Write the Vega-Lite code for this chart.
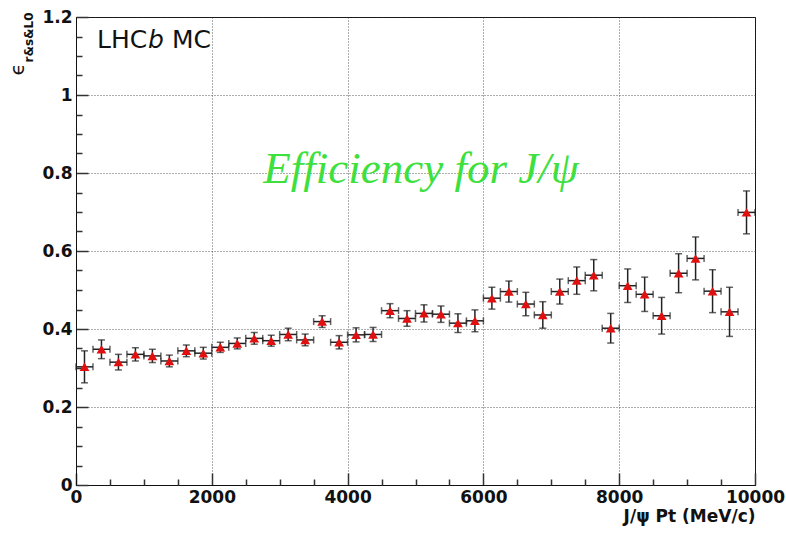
{
  "$schema": "https://vega.github.io/schema/vega-lite/v6.json",
  "width": 679,
  "height": 468,
  "autosize": {"type": "none"},
  "padding": {"left": 76, "top": 17, "right": 31, "bottom": 51},
  "background": "white",
  "config": {
    "view": {"stroke": "#111", "strokeWidth": 1},
    "axis": {"labelFont": "DejaVu Sans", "labelFontWeight": "bold", "labelFontSize": 17, "labelColor": "#111", "titleFont": "DejaVu Sans", "titleColor": "#111"}
  },
  "datasets": {
    "bins": [
      {"pt": 125, "xlo": 0, "xhi": 250, "eff": 0.303, "lo": 0.262, "hi": 0.344},
      {"pt": 375, "xlo": 250, "xhi": 500, "eff": 0.348, "lo": 0.324, "hi": 0.372},
      {"pt": 625, "xlo": 500, "xhi": 750, "eff": 0.315, "lo": 0.295, "hi": 0.335},
      {"pt": 875, "xlo": 750, "xhi": 1000, "eff": 0.335, "lo": 0.318, "hi": 0.352},
      {"pt": 1125, "xlo": 1000, "xhi": 1250, "eff": 0.331, "lo": 0.314, "hi": 0.348},
      {"pt": 1375, "xlo": 1250, "xhi": 1500, "eff": 0.318, "lo": 0.303, "hi": 0.333},
      {"pt": 1625, "xlo": 1500, "xhi": 1750, "eff": 0.344, "lo": 0.329, "hi": 0.359},
      {"pt": 1875, "xlo": 1750, "xhi": 2000, "eff": 0.338, "lo": 0.323, "hi": 0.353},
      {"pt": 2125, "xlo": 2000, "xhi": 2250, "eff": 0.353, "lo": 0.340, "hi": 0.366},
      {"pt": 2375, "xlo": 2250, "xhi": 2500, "eff": 0.363, "lo": 0.349, "hi": 0.377},
      {"pt": 2625, "xlo": 2500, "xhi": 2750, "eff": 0.376, "lo": 0.361, "hi": 0.391},
      {"pt": 2875, "xlo": 2750, "xhi": 3000, "eff": 0.370, "lo": 0.356, "hi": 0.384},
      {"pt": 3125, "xlo": 3000, "xhi": 3250, "eff": 0.386, "lo": 0.370, "hi": 0.402},
      {"pt": 3375, "xlo": 3250, "xhi": 3500, "eff": 0.372, "lo": 0.357, "hi": 0.387},
      {"pt": 3625, "xlo": 3500, "xhi": 3750, "eff": 0.419, "lo": 0.404, "hi": 0.434},
      {"pt": 3875, "xlo": 3750, "xhi": 4000, "eff": 0.366, "lo": 0.349, "hi": 0.383},
      {"pt": 4125, "xlo": 4000, "xhi": 4250, "eff": 0.385, "lo": 0.367, "hi": 0.403},
      {"pt": 4375, "xlo": 4250, "xhi": 4500, "eff": 0.386, "lo": 0.368, "hi": 0.404},
      {"pt": 4625, "xlo": 4500, "xhi": 4750, "eff": 0.447, "lo": 0.429, "hi": 0.465},
      {"pt": 4875, "xlo": 4750, "xhi": 5000, "eff": 0.427, "lo": 0.407, "hi": 0.447},
      {"pt": 5125, "xlo": 5000, "xhi": 5250, "eff": 0.440, "lo": 0.418, "hi": 0.462},
      {"pt": 5375, "xlo": 5250, "xhi": 5500, "eff": 0.438, "lo": 0.417, "hi": 0.459},
      {"pt": 5625, "xlo": 5500, "xhi": 5750, "eff": 0.415, "lo": 0.391, "hi": 0.439},
      {"pt": 5875, "xlo": 5750, "xhi": 6000, "eff": 0.421, "lo": 0.393, "hi": 0.449},
      {"pt": 6125, "xlo": 6000, "xhi": 6250, "eff": 0.479, "lo": 0.451, "hi": 0.507},
      {"pt": 6375, "xlo": 6250, "xhi": 6500, "eff": 0.496, "lo": 0.469, "hi": 0.523},
      {"pt": 6625, "xlo": 6500, "xhi": 6750, "eff": 0.464, "lo": 0.434, "hi": 0.494},
      {"pt": 6875, "xlo": 6750, "xhi": 7000, "eff": 0.436, "lo": 0.402, "hi": 0.470},
      {"pt": 7125, "xlo": 7000, "xhi": 7250, "eff": 0.496, "lo": 0.464, "hi": 0.528},
      {"pt": 7375, "xlo": 7250, "xhi": 7500, "eff": 0.524, "lo": 0.489, "hi": 0.559},
      {"pt": 7625, "xlo": 7500, "xhi": 7750, "eff": 0.538, "lo": 0.498, "hi": 0.578},
      {"pt": 7875, "xlo": 7750, "xhi": 8000, "eff": 0.402, "lo": 0.364, "hi": 0.440},
      {"pt": 8125, "xlo": 8000, "xhi": 8250, "eff": 0.511, "lo": 0.468, "hi": 0.554},
      {"pt": 8375, "xlo": 8250, "xhi": 8500, "eff": 0.489, "lo": 0.445, "hi": 0.533},
      {"pt": 8625, "xlo": 8500, "xhi": 8750, "eff": 0.434, "lo": 0.387, "hi": 0.481},
      {"pt": 8875, "xlo": 8750, "xhi": 9000, "eff": 0.543, "lo": 0.493, "hi": 0.593},
      {"pt": 9125, "xlo": 9000, "xhi": 9250, "eff": 0.581, "lo": 0.526, "hi": 0.636},
      {"pt": 9375, "xlo": 9250, "xhi": 9500, "eff": 0.497, "lo": 0.442, "hi": 0.552},
      {"pt": 9625, "xlo": 9500, "xhi": 9750, "eff": 0.444, "lo": 0.381, "hi": 0.507},
      {"pt": 9875, "xlo": 9750, "xhi": 10000, "eff": 0.699, "lo": 0.644, "hi": 0.754}
    ],
    "lhcb": [
      {"x": 309, "y": 1.12, "t": "LHC"},
      {"x": 1413, "y": 1.12, "t": "MC"}
    ],
    "bitalic": [
      {"x": 1060, "y": 1.12, "t": "b"}
    ],
    "eff": [
      {"x": 5080, "y": 0.774, "t": "Efficiency for J/ψ"}
    ]
  },
  "layer": [
    {
      "data": {"name": "bins"},
      "mark": {"type": "errorbar", "ticks": {"size": 7}, "color": "#222", "thickness": 1.5},
      "encoding": {
        "x": {"field": "pt", "type": "quantitative", "scale": {"domain": [0, 10000], "nice": false, "zero": false},
          "axis": {"values": [0, 2000, 4000, 6000, 8000, 10000], "format": "d", "labelFlush": false, "labelPadding": 16,
            "tickSize": -12, "tickColor": "#333", "tickWidth": 1.5, "domainColor": "#111", "domainWidth": 1,
            "grid": true, "gridColor": "#333", "gridDash": [1, 2], "gridWidth": 1, "gridOpacity": 0.8,
            "title": "J/ψ Pt (MeV/c)", "titleFontWeight": "bold", "titleFontSize": 17, "titleAnchor": "end", "titleAlign": "right", "titlePadding": 3}},
        "y": {"field": "lo", "type": "quantitative", "scale": {"domain": [0, 1.2], "nice": false},
          "axis": {"values": [0, 0.2, 0.4, 0.6, 0.8, 1, 1.2], "format": ".1~f", "labelFlush": false, "labelPadding": 16,
            "tickSize": -12, "tickColor": "#333", "tickWidth": 1.5, "domainColor": "#111", "domainWidth": 1,
            "grid": true, "gridColor": "#333", "gridDash": [1, 2], "gridWidth": 1, "gridOpacity": 0.8,
            "title": "ϵ", "titleFont": "DejaVu Sans", "titleFontSize": 20, "titleFontWeight": "normal", "titleAngle": 270,
            "titleAlign": "left", "titleBaseline": "alphabetic", "titleX": -53, "titleY": 58}},
        "y2": {"field": "hi"}
      }
    },
    {
      "data": {"name": "bins"},
      "mark": {"type": "errorbar", "ticks": {"size": 7}, "color": "#222", "thickness": 1.5},
      "encoding": {
        "y": {"field": "eff", "type": "quantitative", "scale": {"domain": [0, 1.2], "nice": false}, "axis": null},
        "x": {"field": "xlo", "type": "quantitative", "scale": {"domain": [0, 10000], "nice": false, "zero": false}, "axis": null},
        "x2": {"field": "xhi"}
      }
    },
    {
      "data": {"name": "bins"},
      "mark": {"type": "point", "shape": "triangle-up", "filled": true, "size": 95, "color": "#e01010", "opacity": 1},
      "encoding": {
        "x": {"field": "pt", "type": "quantitative", "axis": null},
        "y": {"field": "eff", "type": "quantitative", "axis": null}
      }
    },
    {
      "data": {"name": "lhcb"},
      "mark": {"type": "text", "font": "DejaVu Sans", "fontSize": 25, "align": "left", "baseline": "alphabetic", "color": "#111"},
      "encoding": {
        "x": {"field": "x", "type": "quantitative", "axis": null},
        "y": {"field": "y", "type": "quantitative", "axis": null},
        "text": {"field": "t"}
      }
    },
    {
      "data": {"name": "bitalic"},
      "mark": {"type": "text", "font": "DejaVu Sans", "fontSize": 25, "fontStyle": "italic", "align": "left", "baseline": "alphabetic", "color": "#111"},
      "encoding": {
        "x": {"field": "x", "type": "quantitative", "axis": null},
        "y": {"field": "y", "type": "quantitative", "axis": null},
        "text": {"field": "t"}
      }
    },
    {
      "data": {"name": "eff"},
      "mark": {"type": "text", "font": "Liberation Serif", "fontSize": 45, "fontStyle": "italic", "align": "center", "baseline": "alphabetic", "color": "#3ee03e"},
      "encoding": {
        "x": {"field": "x", "type": "quantitative", "axis": null},
        "y": {"field": "y", "type": "quantitative", "axis": null},
        "text": {"field": "t"}
      }
    },
    {
      "data": {"name": "bins"},
      "mark": {"type": "point", "opacity": 0},
      "encoding": {
        "x": {"field": "pt", "type": "quantitative",
          "axis": {"orient": "bottom", "values": [500, 1000, 1500, 2500, 3000, 3500, 4500, 5000, 5500, 6500, 7000, 7500, 8500, 9000, 9500],
            "labels": false, "domain": false, "grid": false, "tickSize": -6, "tickColor": "#333", "tickWidth": 1.5, "title": null}},
        "y": {"field": "eff", "type": "quantitative",
          "axis": {"orient": "left", "values": [0.05, 0.1, 0.15, 0.25, 0.3, 0.35, 0.45, 0.5, 0.55, 0.65, 0.7, 0.75, 0.85, 0.9, 0.95, 1.05, 1.1, 1.15],
            "labels": false, "domain": false, "grid": false, "tickSize": -6, "tickColor": "#333", "tickWidth": 1.5,
            "title": "r&s&L0", "titleFont": "DejaVu Sans", "titleFontSize": 12, "titleFontWeight": "bold", "titleAngle": 270,
            "titleAlign": "left", "titleBaseline": "alphabetic", "titleX": -44, "titleY": 45}}
      }
    }
  ],
  "resolve": {"axis": {"x": "independent", "y": "independent"}}
}
